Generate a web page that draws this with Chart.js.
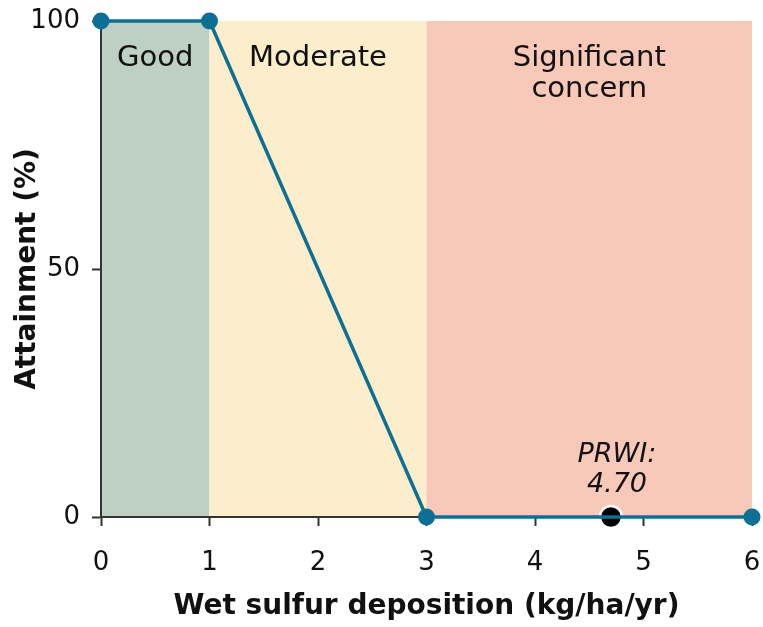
<!DOCTYPE html>
<html>
<head>
<meta charset="utf-8">
<script src="https://cdn.jsdelivr.net/npm/chart.js@4.4.1/dist/chart.umd.min.js"></script>
<style>
  html, body { margin: 0; padding: 0; background: #ffffff; }
  #wrap { width: 763px; height: 627px; position: relative; }
</style>
</head>
<body>
<div id="wrap"><canvas id="chart"></canvas></div>
<script>
// Attainment curve: wet sulfur deposition (kg/ha/yr) vs attainment (%)
const depositionX = [0, 1, 3, 6];
const attainmentY = [100, 100, 0, 0];

// Observed value for PRWI
const prwiLabel = 'PRWI:';
const prwiValue = 4.70;
const prwiAttainment = 0;

// Condition bands along the deposition axis
const bandNames = [['Good'], ['Moderate'], ['Significant', 'concern']];
const bandStarts = [0, 1, 3];
const bandEnds = [1, 3, 6];
const bandColors = ['#bdd0c3', '#fdeecb', '#f8c9b9'];

// Axis ticks
const xTicks = [0, 1, 2, 3, 4, 5, 6];
const yTicks = [0, 50, 100];

const FONT = "'DejaVu Sans', sans-serif";
const LINE = '#0c6f96';

const bandPlugin = {
  id: 'bands',
  // painted before the axes so the axis lines stay on top
  beforeDraw(chart) {
    const { ctx, chartArea, scales } = chart;
    const x = scales.x;
    ctx.save();
    bandStarts.forEach((s, i) => {
      const x0 = x.getPixelForValue(s);
      const x1 = x.getPixelForValue(bandEnds[i]);
      ctx.fillStyle = bandColors[i];
      ctx.fillRect(x0, chartArea.top, x1 - x0, chartArea.bottom - chartArea.top);
    });
    // band labels
    ctx.fillStyle = '#111';
    ctx.font = `29px ${FONT}`;
    ctx.textAlign = 'center';
    ctx.textBaseline = 'middle';
    bandStarts.forEach((s, i) => {
      const cx = (x.getPixelForValue(s) + x.getPixelForValue(bandEnds[i])) / 2;
      bandNames[i].forEach((t, j) => {
        ctx.fillText(t, cx, chartArea.top + 37 + j * 31);
      });
    });
    ctx.restore();
  },
  afterDatasetsDraw(chart) {
    const { ctx, scales } = chart;
    const px = scales.x.getPixelForValue(prwiValue);
    const py = scales.y.getPixelForValue(prwiAttainment);
    ctx.save();
    ctx.fillStyle = '#111';
    ctx.font = `italic 27px ${FONT}`;
    ctx.textAlign = 'center';
    ctx.textBaseline = 'middle';
    ctx.fillText(prwiLabel, px + 6, py - 62);
    ctx.fillText(prwiValue.toFixed(2), px + 6, py - 32);
    ctx.restore();
  }
};

// fixed scale boxes so the plot area sits where it should
function fixPadding(s) {
  s.paddingTop = 0; s.paddingBottom = 0; s.paddingLeft = 0; s.paddingRight = 0;
}

const gridOpts = {
  display: true, drawOnChartArea: false, drawTicks: true,
  tickLength: 9, tickColor: '#333', tickWidth: 2
};

new Chart(document.getElementById('chart'), {
  type: 'scatter',
  data: {
    datasets: [
      {
        data: depositionX.map((v, i) => ({ x: v, y: attainmentY[i] })),
        showLine: true,
        borderColor: LINE,
        borderWidth: 3.5,
        pointRadius: 8.5,
        pointBackgroundColor: LINE,
        pointBorderWidth: 0,
        clip: false
      },
      {
        data: [{ x: prwiValue, y: prwiAttainment }],
        pointRadius: 11,
        pointBackgroundColor: '#000000',
        pointBorderColor: '#ffffff',
        pointBorderWidth: 2.5,
        clip: false
      }
    ]
  },
  plugins: [bandPlugin],
  options: {
    responsive: true,
    maintainAspectRatio: false,
    animation: false,
    layout: { autoPadding: false, padding: { left: 0, top: 21, right: 11, bottom: 0 } },
    plugins: { legend: { display: false }, tooltip: { enabled: false } },
    scales: {
      x: {
        type: 'linear',
        min: 0, max: 6,
        afterBuildTicks(s) { s.ticks = xTicks.map(v => ({ value: v })); },
        afterFit(s) { s.height = 110; fixPadding(s); },
        grid: gridOpts,
        border: { display: true, color: '#333', width: 2 },
        ticks: { color: '#111', font: { family: FONT, size: 26 }, padding: 22, maxRotation: 0 },
        title: {
          display: true, text: 'Wet sulfur deposition (kg/ha/yr)', color: '#111',
          font: { family: FONT, size: 28, weight: 'bold' }, padding: { top: 4, bottom: 3 }
        }
      },
      y: {
        min: 0, max: 100,
        afterBuildTicks(s) { s.ticks = yTicks.map(v => ({ value: v })); },
        afterFit(s) { s.width = 101; fixPadding(s); },
        grid: gridOpts,
        border: { display: true, color: '#333', width: 2 },
        ticks: { color: '#111', font: { family: FONT, size: 26 }, padding: 12 },
        title: {
          display: true, text: 'Attainment (%)', color: '#111',
          font: { family: FONT, size: 28, weight: 'bold' }, padding: { top: 11, bottom: 0 }
        }
      }
    }
  }
});
</script>
</body>
</html>
